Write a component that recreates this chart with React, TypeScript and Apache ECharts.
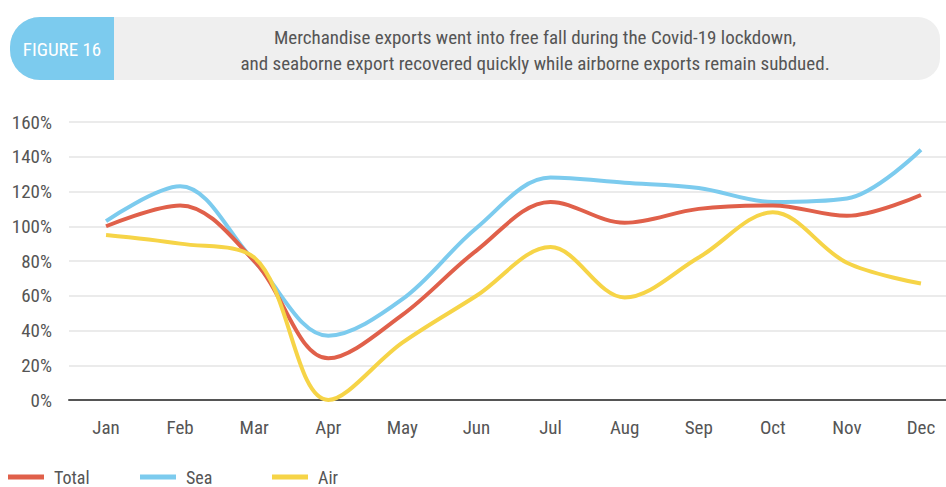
import React, { useEffect, useRef } from "react";
import * as echarts from "echarts";

const months = ["Jan", "Feb", "Mar", "Apr", "May", "Jun", "Jul", "Aug", "Sep", "Oct", "Nov", "Dec"];
const totalValues = [100, 112, 80, 24, 49, 86, 114, 102, 110, 112, 106, 118];
const seaValues = [103, 123, 80, 37, 58, 99, 128, 125, 122, 114, 116, 144];
const airValues = [95, 90, 82, 0, 33, 60, 88, 59, 82, 108, 79, 67];
const seriesNames = ["Total", "Sea", "Air"];
const titleLines = [
  "Merchandise exports went into free fall during the Covid-19 lockdown,",
  "and seaborne export recovered quickly while airborne exports remain subdued.",
];
const figureLabel = "FIGURE 16";

const FONT = "'Liberation Sans Narrow', 'Roboto Condensed', Roboto, sans-serif";
const legendLefts = [8, 140, 272];

export default function App() {
  const ref = useRef<HTMLDivElement>(null);
  useEffect(() => {
    if (!ref.current) return;
    const chart = echarts.init(ref.current, null, { renderer: "svg" });
    chart.setOption({
      animation: false,
      backgroundColor: "#ffffff",
      textStyle: { fontFamily: FONT },
      graphic: [
        {
          type: "rect",
          shape: { x: 10, y: 17, width: 930, height: 63, r: [30, 22, 22, 30] },
          style: { fill: "#efefef" },
        },
        {
          type: "rect",
          shape: { x: 10, y: 17, width: 104, height: 63, r: [30, 0, 0, 30] },
          style: { fill: "#7ccbee" },
        },
        {
          type: "text",
          x: 62,
          y: 49,
          style: {
            text: figureLabel,
            fill: "#ffffff",
            font: `19px ${FONT}`,
            align: "center",
            verticalAlign: "middle",
          },
        },
        {
          type: "text",
          x: 535,
          y: 37,
          style: {
            text: titleLines[0],
            fill: "#555555",
            font: `19px ${FONT}`,
            align: "center",
            verticalAlign: "middle",
          },
        },
        {
          type: "text",
          x: 535,
          y: 63,
          style: {
            text: titleLines[1],
            fill: "#555555",
            font: `19px ${FONT}`,
            align: "center",
            verticalAlign: "middle",
          },
        },
      ],
      legend: seriesNames.map((name, i) => ({
        left: legendLefts[i],
        top: 468,
        padding: 0,
        icon: "rect",
        itemWidth: 36,
        itemHeight: 5,
        textStyle: {
          fontSize: 18,
          color: "#555555",
          fontFamily: FONT,
          padding: [0, 0, 0, 5],
        },
        data: [name],
      })),
      grid: { left: 69, right: 1, top: 122, bottom: 87, containLabel: false },
      xAxis: {
        type: "category",
        data: months,
        boundaryGap: true,
        axisLine: { lineStyle: { color: "#555555", width: 2 } },
        axisTick: { show: false },
        axisLabel: { fontSize: 19, color: "#555555", margin: 18, fontFamily: FONT },
      },
      yAxis: {
        type: "value",
        min: 0,
        max: 160,
        interval: 20,
        axisLine: { show: false },
        axisTick: { show: false },
        axisLabel: { formatter: "{value}%", fontSize: 19, color: "#555555", margin: 17, fontFamily: FONT },
        splitLine: { lineStyle: { color: "#e4e4e4", width: 1.5 } },
      },
      series: [
        {
          name: seriesNames[0],
          type: "line",
          data: totalValues,
          smooth: 0.35,
          symbol: "none",
          lineStyle: { width: 4, color: "#e0604a" },
          itemStyle: { color: "#e0604a" },
          z: 3,
        },
        {
          name: seriesNames[1],
          type: "line",
          data: seaValues,
          smooth: 0.35,
          symbol: "none",
          lineStyle: { width: 4, color: "#7ccbee" },
          itemStyle: { color: "#7ccbee" },
          z: 2,
        },
        {
          name: seriesNames[2],
          type: "line",
          data: airValues,
          smooth: 0.35,
          symbol: "none",
          lineStyle: { width: 4, color: "#f6d447" },
          itemStyle: { color: "#f6d447" },
          z: 4,
        },
      ],
    });
    return () => chart.dispose();
  }, []);
  return (
    <div style={{ position: "absolute", left: 0, top: 0, width: 946, height: 487, overflow: "hidden" }}>
      <div ref={ref} style={{ width: 959, height: 487 }} />
    </div>
  );
}
